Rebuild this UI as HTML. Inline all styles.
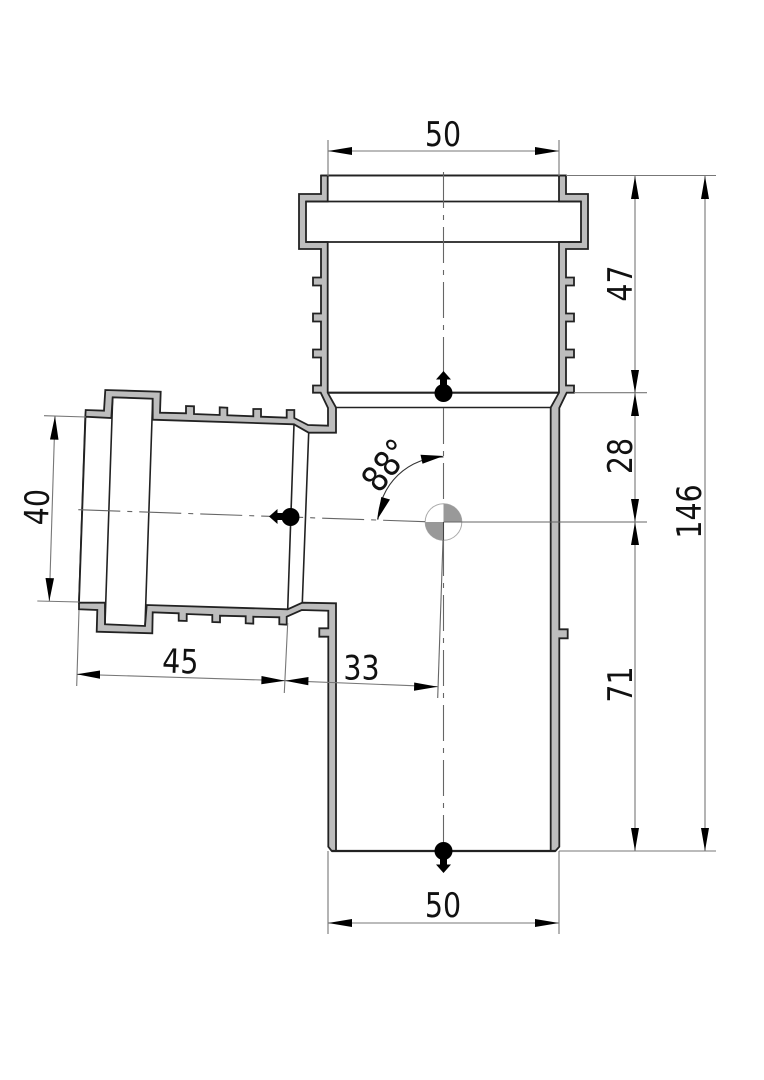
<!DOCTYPE html>
<html><head><meta charset="utf-8"><style>html,body{margin:0;padding:0;background:#fff}svg{display:block}
text{font-family:"DejaVu Sans","Liberation Sans",sans-serif;font-size:33.500px;fill:#111;text-anchor:middle}</style></head>
<body><svg width="764" height="1080" viewBox="0 0 764 1080" xmlns="http://www.w3.org/2000/svg">
<rect width="764" height="1080" fill="#fff"/>
<!-- body wall -->
<path fill="#bdbdbd" stroke="#222" stroke-width="1.8" stroke-linejoin="miter" d="M321 175.5V194H299V249H321V277.5H313V285.5H321V313.5H313V321.5H321V349.5H313V357.5H321V385.5H313V392.7H320.7L328 408V425.7L308 425L294.3 418V410H286.7V417.7L261 416.7V409H253.3V416.3L227.3 415.3V407.7L219.7 407.3V415L194 414V406.3L186 406V413.3L160 412.7L160.7 391.7L105.3 390L104 410.7L85.7 410L85.3 416.7L79 602.7V609.3L97.3 610L96.7 631.7L152.3 633.3L152.7 612.3L178.7 613.3V620.7L186.7 621V614L212.3 615V622L220 622.3V615.7L245.7 616.3V623.3L253.3 623.7V616.7L279.3 617.3V624.3L286.7 624.7V616.7L301.7 610L328.3 610.7V628.3H319.3V636.7H328.3V846.7L331.7 851H555.5L559.3 846.7V638.3H567.7V629.3H559.3V408L566.7 392.7H574V385.5H566V357.5H574V349.5H566V321.5H574V313.5H566V285.5H574V277.5H566V249H588V194H566V175.5Z"/>
<!-- cavity -->
<path fill="#fff" stroke="#222" stroke-width="1.8" stroke-linejoin="miter" d="M327.7 175.5V201.5H306V242H327.7V392.7L336 407.5V432.7H308.7L294 424.3L152.7 419.7V398.7L112.7 397.3L111.3 418L85.5 416.7L79 602.7H105L105 624.3L145 626L146.7 605L287.7 609.3L302.3 602.7L336 603.3V851H550.7V407.5L559 392.7V242H581V201.5H559V175.5Z"/>
<g fill="none" stroke="#222" stroke-width="1.8">
<path d="M321 175.5H566M306 201.5H581M306 242H581"/>
<path stroke-width="2.2" d="M327.7 392.7H559M331.7 851H555.5"/>
<path stroke-width="1.5" d="M336 407.5H550.7"/>
<path stroke-width="1.6" d="M112.7 397.3L105 624.3M152.7 398.7L145 626M294 424.3L287.7 609.3M308.7 432.7L302.3 602.7"/>
</g>
<!-- centre marker -->
<circle cx="443.5" cy="522" r="18.3" fill="#fff" stroke="#aaa" stroke-width="1"/>
<path fill="#999" d="M443.5 522V503.7A18.3 18.3 0 0 1 461.8 522ZM443.5 522V540.3A18.3 18.3 0 0 1 425.2 522Z"/>
<!-- centre lines -->
<g fill="none" stroke="#666" stroke-width="1.1">
<path stroke-dasharray="36 7 5 7" d="M443.5 172V392"/>
<path stroke-dasharray="36 7 5 7" d="M443.5 408V504"/>
<path stroke-dasharray="36 7 5 7" d="M443.5 540V850"/>
<path stroke-dasharray="42 7 5 7" d="M78.3 509.7L425 521.7"/>
<path d="M443.5 522H647"/>
<path stroke="#444" d="M443.5 522V540"/>
<path d="M443 540L437.7 698"/>
</g>
<!-- dimension lines -->
<g fill="none" stroke="#777" stroke-width="1.1">
<path d="M328 140V176M559 140V176M328 851V934M559 851V934"/>
<path d="M328 151H559M328 923H559"/>
<path d="M566 175.5H716M574 392.7H647M559 851H716"/>
<path d="M635 176V851M705 176V851"/>
<path d="M44 415.7L86 417M37.3 601L79.3 602"/>
<path d="M55 416L49.3 601.3"/>
<path d="M79 610L76.7 686M287.7 623L284.3 693"/>
<path d="M76.7 674.3L285 680.7L437.7 686.7"/>
<path stroke="#333" d="M443.5 457A65 65 0 0 0 378 519.5"/>
</g>
<!-- arrowheads -->
<g fill="#000">
<path d="M328 151L352 147V155ZM559 151L535 147V155Z"/>
<path d="M328 923L352 919V927ZM559 923L535 919V927Z"/>
<path d="M635 176L631 199H639ZM635 393L631 370H639ZM635 393L631 416H639ZM635 522L631 499H639ZM635 522L631 545H639ZM635 851L631 828H639Z"/>
<path d="M705 176L701 199H709ZM705 851L701 828H709Z"/>
<path d="M55 416L50 439.5L58.5 439.8ZM49.3 601.3L45.5 578L54 578.3Z"/>
<path d="M76.7 674.3L100 670.5L100 678.8ZM285 680.7L261.5 676L261.3 684.3ZM285 680.7L308.5 677L308.3 685.3ZM437.7 686.7L414.2 682.5L414 690.8Z"/>
<path d="M443.5 456L420.5 454.7L422.5 463.8ZM377 520L381.3 497L390 499.5Z"/>
</g>
<!-- flow markers -->
<g fill="#000">
<circle cx="443.5" cy="393" r="9"/><path d="M443.5 371L451 379.5H447V388H440V379.5H436Z"/>
<circle cx="443.5" cy="851" r="9"/><path d="M443.5 873L451 864.5H447V856H440V864.5H436Z"/>
<circle cx="290.5" cy="517" r="9"/><path d="M269 516.5L277.5 509V513H286V520H277.5V524Z"/>
</g>
<!-- labels -->
<text transform="translate(443 146) scale(.85 1)">50</text>
<text transform="translate(443 917) scale(.85 1)">50</text>
<text transform="translate(632 283.500) rotate(-90) scale(.85 1)">47</text>
<text transform="translate(632 456) rotate(-90) scale(.85 1)">28</text>
<text transform="translate(632 684.500) rotate(-90) scale(.85 1)">71</text>
<text transform="translate(701 511.500) rotate(-90) scale(.85 1)">146</text>
<text transform="translate(48.500 507.500) rotate(-88) scale(.85 1)">40</text>
<text transform="translate(180 673) rotate(2) scale(.85 1)">45</text>
<text transform="translate(361.500 679.500) scale(.85 1)">33</text>
<text transform="translate(396 473) rotate(-52) scale(.85 1)" style="font-size:36px">88°</text>
</svg></body></html>
